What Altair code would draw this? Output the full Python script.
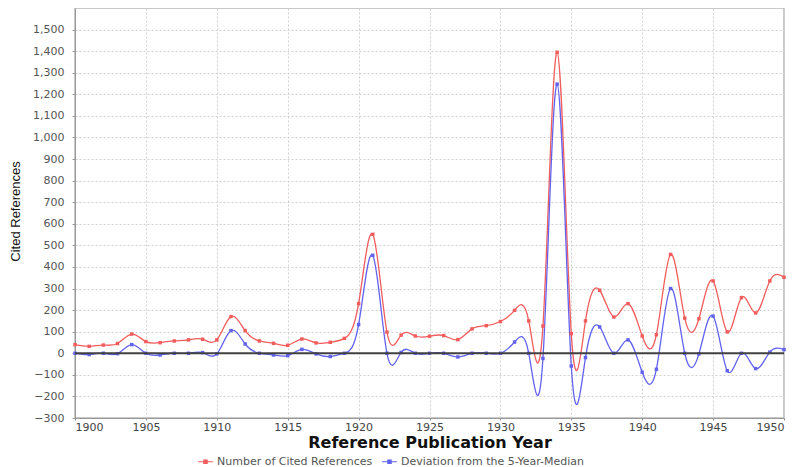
import altair as alt
import pandas as pd

years = list(range(1900, 1951))
cited = [40, 32, 38, 45, 89, 54, 49, 57, 62, 65,
         62, 170, 105, 57, 46, 37, 66, 48, 51, 69,
         230, 551, 98, 84, 80, 79, 82, 63, 113, 128,
         147, 199, 150, 126, 1395, 91, 150, 292, 168, 230,
         80, 86, 458, 163, 160, 335, 99, 258, 187, 335, 352]
deviation = [0, -6, 0, -2, 40, 0, -8, 0, 0, 3,
             -3, 105, 43, 0, -8, -11, 18, -3, -15, 0,
             133, 454, 0, 4, 0, 0, 0, -17, 0, 0,
             0, 52, 0, -24, 1247, -59, -20, 122, 0, 62,
             -88, -74, 300, 0, -3, 172, -81, 0, -71, 5, 17]
series_names = ["Number of Cited References", "Deviation from the 5-Year-Median"]
series_colors = ["#f25c5c", "#6262f0"]
y_ticks = list(range(-300, 1501, 100))
x_ticks = list(range(1900, 1951, 5))

df = pd.concat([
    pd.DataFrame({"year": years, "value": cited, "series": series_names[0]}),
    pd.DataFrame({"year": years, "value": deviation, "series": series_names[1]}),
])

y_scale = alt.Scale(domain=[-300, 1600], nice=False)
x_scale = alt.Scale(domain=[1900, 1950], nice=False, zero=False)

x_axis = alt.Axis(values=x_ticks, format="d", title="Reference Publication Year",
                  labelFont="DejaVu Sans", labelFontSize=11, labelColor="#444",
                  labelPadding=1, tickSize=2, tickColor="#888", labelOverlap=False,
                  domainColor="#999", gridColor="#d0d0d0", gridDash=[2, 2],
                  titleFont="DejaVu Sans", titleFontSize=16, titleFontWeight="bold",
                  titleColor="#111", titleY=29, titleBaseline="alphabetic")
y_axis = alt.Axis(values=y_ticks, format=",d", title="Cited References",
                  labelFont="DejaVu Sans", labelFontSize=11, labelColor="#555",
                  labelPadding=8, tickSize=3, tickColor="#999", labelOverlap=False,
                  domainColor="#999", gridColor="#d0d0d0", gridDash=[2, 2],
                  titleFont="Liberation Sans", titleFontSize=13,
                  titleFontWeight="normal", titleColor="#111",
                  titleX=-60, titleY=203, titleAngle=270, titleAlign="center",
                  titleBaseline="middle")
color_scale = alt.Scale(domain=series_names, range=series_colors)

color_enc = alt.Color("series:N", scale=color_scale,
                      legend=alt.Legend(title=None, orient="none", legendX=122, legendY=445,
                                        direction="horizontal",
                                        symbolType="M-1,0L1,0M-0.22,-0.22L0.22,-0.22L0.22,0.22L-0.22,0.22Z",
                                        symbolSize=220, symbolStrokeWidth=1.2,
                                        labelFont="DejaVu Sans", labelFontSize=11, labelLimit=400,
                                        labelColor="#555", columnPadding=6, labelOffset=3))

base = alt.Chart(df)

zero = alt.Chart(pd.DataFrame({"value": [0]})).mark_rule(color="#404040", strokeWidth=2).encode(
    y=alt.Y("value:Q", scale=y_scale, axis=y_axis)
)

lines = base.mark_line(interpolate="natural", strokeWidth=1.3, clip=True).encode(
    x=alt.X("year:Q", scale=x_scale, axis=x_axis),
    y=alt.Y("value:Q", scale=y_scale, axis=y_axis),
    color=color_enc, order="year:Q", detail="series:N"
)
points = base.mark_point(shape="square", filled=True, size=12, opacity=1).encode(
    x=alt.X("year:Q", scale=x_scale, axis=x_axis),
    y=alt.Y("value:Q", scale=y_scale, axis=y_axis),
    color=alt.Color("series:N", scale=color_scale, legend=None)
)

chart = alt.layer(lines, points, zero).properties(
    width=709, height=410,
    autosize=alt.AutoSizeParams(type="none"),
    padding={"left": 67, "top": 0, "right": 4, "bottom": 49},
    background="white",
).configure_view(stroke="#b8b8b8", strokeWidth=1.5)

chart.save("out.html", embed_options={"renderer": "svg", "actions": False})
